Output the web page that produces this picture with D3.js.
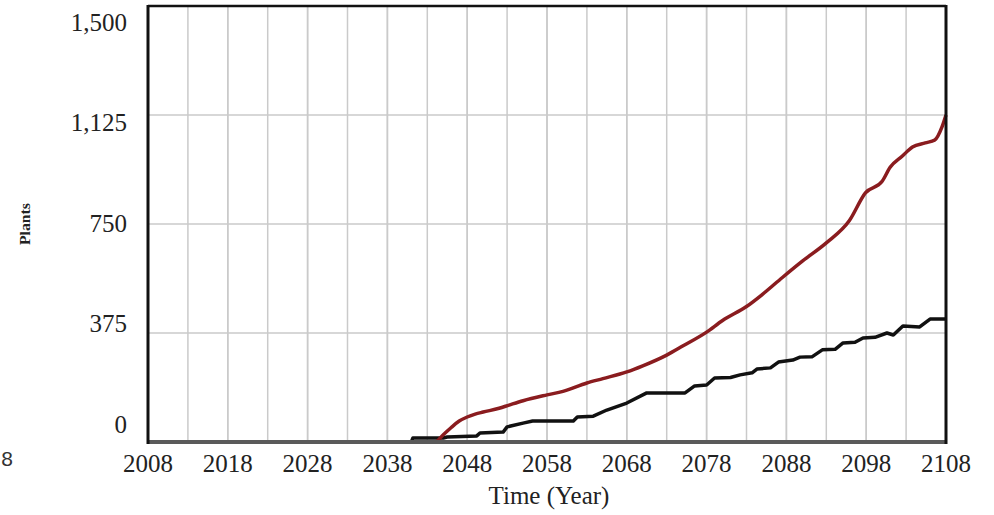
<!DOCTYPE html>
<html>
<head>
<meta charset="utf-8">
<script src="https://cdn.jsdelivr.net/npm/d3@7"></script>
<style>
  html, body { margin: 0; padding: 0; background: #fff; }
  svg { display: block; }
</style>
</head>
<body>
<svg id="chart" width="994" height="515"></svg>
<script>
// ---- data ----
const xTicks = [2008, 2018, 2028, 2038, 2048, 2058, 2068, 2078, 2088, 2098, 2108];
const yTicks = [0, 375, 750, 1125, 1500];
const yTickLabels = ["0", "375", "750", "1,125", "1,500"];
const gridYears = d3.range(2013, 2108, 5);

const redYears  = [2008, 2044, 2045, 2046, 2047, 2048, 2049, 2050, 2052, 2053.25, 2055, 2058, 2060, 2063, 2065, 2068, 2070, 2073, 2075, 2078, 2080, 2083, 2085, 2087.5, 2090, 2093, 2095.9, 2097.9, 2100, 2101, 2102.5, 2103.8, 2105.4, 2106.6, 2107.5, 2108];
const redValues = [0,    0,    25,   50,   72,   86,   96,   103,  116,  127,     142,  162,  174,  203,  218,  241,  262,  299,  330,  378,  418,  466,  508,  566,    622,  685,  762,    857,    897,  945,  983,    1015,   1029,   1039,   1084,   1125];

const blackYears  = [2008, 2041, 2041.2, 2045, 2045.5, 2049.2, 2049.6, 2052.5, 2053, 2055, 2056.2, 2061.3, 2061.8, 2063.8, 2065.5, 2068, 2070.5, 2075.3, 2076.5, 2078, 2079, 2081, 2082.2, 2083.7, 2084.3, 2086, 2087, 2088.8, 2089.7, 2091.2, 2092.5, 2094.1, 2095.1, 2096.6, 2097.6, 2099.1, 2100.6, 2101.4, 2102.6, 2104.7, 2106, 2108];
const blackValues = [0,    0,    14,     14,   17,     21,     31,     34,     52,   65,   72,     72,     86,     89,     110,    134,  169,    169,    193,    196,  220,  222,  231,    238,    251,    255,  275,  282,    292,    293,    317,    319,    341,    343,    358,    360,    375,    368,    399,    396,    423,  423];

// ---- layout ----
const svg = d3.select("#chart");
const L = 148, R = 946, T = 6, B = 442;
const x = d3.scaleLinear().domain([2008, 2108]).range([L, R]);
const y = d3.scaleLinear().domain([0, 1500]).range([B, T]);
const yLab = d3.scaleLinear().domain([0, 1500]).range([424, 22]);

// gridlines
svg.append("g").selectAll("line").data(gridYears.concat(xTicks.slice(1, -1))).join("line")
  .attr("x1", d => x(d)).attr("x2", d => x(d))
  .attr("y1", T).attr("y2", B)
  .attr("stroke", "#cacaca").attr("stroke-width", 1.5);
svg.append("g").selectAll("line").data(yTicks.slice(1, -1)).join("line")
  .attr("x1", L).attr("x2", R)
  .attr("y1", d => y(d)).attr("y2", d => y(d))
  .attr("stroke", "#cacaca").attr("stroke-width", 1.5);

// series
const line = d3.line().x(d => x(d[0])).y(d => y(d[1]));
const smooth = d3.line().x(d => x(d[0])).y(d => y(d[1])).curve(d3.curveMonotoneX);
svg.append("path")
  .datum(blackYears.map((t, i) => [t, blackValues[i]]))
  .attr("d", line).attr("fill", "none")
  .attr("stroke", "#111").attr("stroke-width", 3.5).attr("stroke-linejoin", "round");
svg.append("path")
  .datum(redYears.map((t, i) => [t, redValues[i]]))
  .attr("d", smooth).attr("fill", "none")
  .attr("stroke", "#8a1c1f").attr("stroke-width", 3.5).attr("stroke-linejoin", "round");

// frame
svg.append("line").attr("x1", L).attr("x2", R).attr("y1", B).attr("y2", B)
  .attr("stroke", "#5a5a5a").attr("stroke-width", 4);
svg.append("line").attr("x1", L).attr("x2", R).attr("y1", T).attr("y2", T)
  .attr("stroke", "#111").attr("stroke-width", 2.5);
svg.append("line").attr("x1", L).attr("x2", L).attr("y1", T - 1).attr("y2", B + 2)
  .attr("stroke", "#111").attr("stroke-width", 3);
svg.append("line").attr("x1", R).attr("x2", R).attr("y1", T - 1).attr("y2", B + 2)
  .attr("stroke", "#111").attr("stroke-width", 3);

// y tick labels
svg.append("g").selectAll("text").data(yTicks).join("text")
  .attr("x", 127).attr("y", d => yLab(d))
  .attr("dy", "0.35em")
  .attr("text-anchor", "end")
  .attr("font-family", "'Liberation Serif', 'Times New Roman', serif")
  .attr("font-size", 25).attr("fill", "#222")
  .text((d, i) => yTickLabels[i]);

// x tick labels
svg.append("g").selectAll("text").data(xTicks).join("text")
  .attr("x", d => x(d)).attr("y", 472)
  .attr("text-anchor", "middle")
  .attr("font-family", "'Liberation Serif', 'Times New Roman', serif")
  .attr("font-size", 25).attr("fill", "#222")
  .text(d => d);

// axis titles
svg.append("text")
  .attr("x", 549).attr("y", 504)
  .attr("text-anchor", "middle")
  .attr("font-family", "'Liberation Serif', 'Times New Roman', serif")
  .attr("font-size", 25).attr("fill", "#222")
  .text("Time (Year)");
svg.append("text")
  .attr("transform", "translate(30,224) rotate(-90)")
  .attr("text-anchor", "middle")
  .attr("font-family", "'Liberation Serif', 'Times New Roman', serif")
  .attr("font-weight", "bold")
  .attr("font-size", 15).attr("fill", "#222")
  .attr("textLength", 42).attr("lengthAdjust", "spacingAndGlyphs")
  .text("Plants");

// stray label at left
svg.append("text")
  .attr("x", 7).attr("y", 466)
  .attr("text-anchor", "middle")
  .attr("font-family", "'Liberation Sans', Arial, sans-serif")
  .attr("font-size", 21).attr("fill", "#333")
  .text("8");
</script>
</body>
</html>
